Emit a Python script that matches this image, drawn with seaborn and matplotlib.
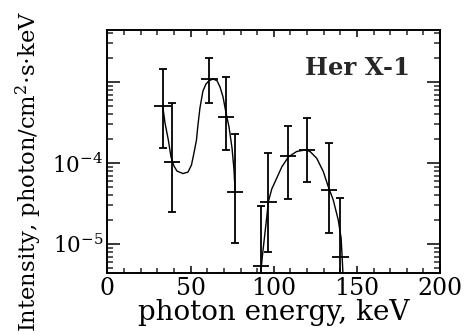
import numpy as np
import matplotlib
matplotlib.use("Agg")
import matplotlib.pyplot as plt
import seaborn as sns

# measured points (keV, photon/cm^2 s keV)
energy = [33.2, 38.7, 61.2, 71.3, 76.7, 92.3, 96.7, 108.5, 119.9, 133.2, 140.0]
flux = [5.13e-4, 1.02e-4, 1.08e-3, 3.73e-4, 4.35e-5, 5.35e-6, 3.32e-5, 1.22e-4, 1.45e-4, 4.64e-5, 6.97e-6]
flux_hi = [1.44e-3, 5.46e-4, 1.96e-3, 1.14e-3, 2.28e-4, 2.94e-5, 1.32e-4, 2.86e-4, 3.56e-4, 1.75e-4, 3.66e-5]
flux_lo = [1.55e-4, 2.46e-5, 5.46e-4, 1.45e-4, 1.04e-5, 1.0e-6, 8.04e-6, 3.56e-5, 5.88e-5, 1.38e-5, 1.0e-6]
bin_half = [5, 5, 5, 5, 5, 5, 5, 5, 5, 5, 5]

# model curve, low-energy part
fit1_e = [33.2, 34.6, 36.6, 38.2, 40.0, 41.8, 45.4, 48.4, 50.5, 52.0, 53.5, 54.4, 55.6,
          57.4, 59.2, 61.1, 63.5, 65.9, 67.7, 69.5, 71.3, 73.1, 74.9, 76.1, 76.7]
fit1_f = [5.06e-4, 3.12e-4, 1.92e-4, 1.19e-4, 9.18e-5, 7.96e-5, 7.42e-5, 7.74e-5, 9.45e-5,
          1.33e-4, 1.92e-4, 2.94e-4, 4.78e-4, 7.74e-4, 9.45e-4, 1.04e-3, 1.09e-3, 1.04e-3,
          8.67e-4, 6.53e-4, 4.14e-4, 2.78e-4, 1.53e-4, 8.20e-5, 4.64e-5]

# model curve, high-energy part
fit2_e = [92.0, 93.1, 94.7, 95.8, 96.7, 98.8, 101.8, 104.8, 108.8, 113.8, 118.8, 121.8,
          125.8, 129.8, 132.8, 135.8, 138.8, 140.5, 141.1, 141.7]
fit2_f = [4.0e-6, 6.92e-6, 1.37e-5, 2.15e-5, 3.30e-5, 4.78e-5, 6.53e-5, 8.93e-5, 1.19e-4,
          1.39e-4, 1.45e-4, 1.39e-4, 1.15e-4, 7.85e-5, 5.10e-5, 3.49e-5, 1.98e-5, 1.19e-5,
          7.11e-6, 4.0e-6]

sns.set_theme(style="white")
plt.rcParams["font.family"] = ["DejaVu Serif"]
plt.rcParams["mathtext.fontset"] = "dejavuserif"

fig = plt.figure(figsize=(4.68, 3.34), dpi=100)
ax = fig.add_axes([0.2297, 0.1826, 0.7105, 0.7275])

sns.lineplot(x=fit1_e, y=fit1_f, ax=ax, color="black", lw=1.0, sort=False)
sns.lineplot(x=fit2_e, y=fit2_f, ax=ax, color="black", lw=1.0, sort=False)

f = np.array(flux)
yerr = [f - np.array(flux_lo), np.array(flux_hi) - f]
ax.errorbar(energy, flux, yerr=yerr, fmt="none", ecolor="black", elinewidth=1.3,
            capsize=3.2, capthick=1.3)
ax.errorbar(energy, flux, xerr=bin_half, fmt="none", ecolor="black", elinewidth=1.3,
            capsize=0)

ax.set_yscale("log")
ax.set_xlim(0, 200)
ax.set_ylim(4.39e-6, 4.39e-3)

ax.set_xticks([0, 50, 100, 150, 200])
ax.set_xticks(np.arange(0, 201, 10), minor=True)
ax.set_yticks([1e-5, 1e-4, 1e-3])
ax.set_yticklabels([r"$10^{-5}$", r"$10^{-4}$", ""])
ax.yaxis.set_minor_locator(matplotlib.ticker.LogLocator(base=10, subs=np.arange(2, 10)))
ax.yaxis.set_minor_formatter(matplotlib.ticker.NullFormatter())

ax.tick_params(axis="x", which="major", direction="in", length=5, width=1.1,
               top=True, bottom=True, labelsize=17, pad=3, colors="black")
ax.tick_params(axis="x", which="minor", direction="in", length=3.6, width=1.1,
               top=True, bottom=True)
ax.tick_params(axis="y", which="major", direction="in", length=9.4, width=1.1,
               left=True, right=True, labelsize=15.5, pad=3, colors="black")
ax.tick_params(axis="y", which="minor", direction="in", length=4.3, width=1.1,
               left=True, right=True)

for s in ax.spines.values():
    s.set_linewidth(1.4)
    s.set_color("black")

ax.set_xlabel("photon energy, keV", fontsize=20, labelpad=-1, color="black")
ax.set_ylabel(r"Intensity, photon/cm$^2$$\cdot$s$\cdot$keV", fontsize=16.3, color="black")
ax.yaxis.set_label_coords(-0.19, 0.42)

ax.text(0.594, 0.815, "Her X-1", transform=ax.transAxes, fontsize=17.5,
        fontweight="bold", ha="left", va="baseline")

fig.savefig("out.png", dpi=100)
